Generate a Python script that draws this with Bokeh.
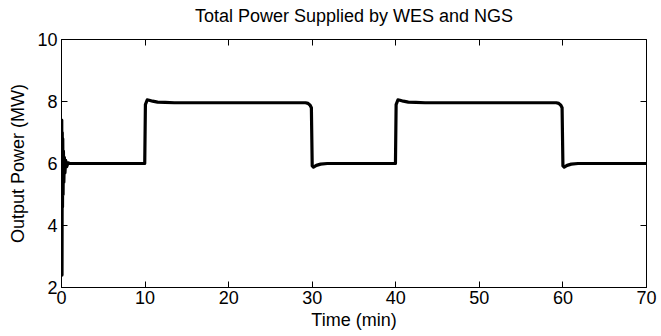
from bokeh.plotting import figure
from bokeh.models import LinearAxis, FixedTicker, Range1d, CustomLabelingPolicy
from bokeh.embed import file_html
from bokeh.resources import INLINE

# Time (min) and total output power (MW)
time_min = [
    0.00, 0.03, 0.06, 0.09, 0.12, 0.15, 0.19, 0.23, 0.28, 0.34, 0.41, 0.50, 0.62, 0.78, 1.00,
    9.96, 10.04, 10.25, 10.50, 10.90, 11.50, 12.40, 13.50,
    29.20, 29.50, 29.75, 29.90, 30.00, 30.15, 30.50, 31.00, 31.80,
    39.96, 40.04, 40.25, 40.50, 40.90, 41.50, 42.40, 43.50,
    59.20, 59.50, 59.75, 59.90, 60.00, 60.15, 60.50, 61.00, 61.80,
    70.00,
]
power_mw = [
    6.00, 7.40, 2.40, 7.00, 4.60, 6.80, 5.00, 6.40, 5.40, 6.20, 5.70, 6.10, 5.90, 6.02, 6.00,
    6.00, 7.90, 8.05, 8.04, 8.01, 7.98, 7.97, 7.96,
    7.96, 7.94, 7.88, 7.80, 5.92, 5.88, 5.94, 5.98, 6.00,
    6.00, 7.90, 8.05, 8.04, 8.01, 7.98, 7.97, 7.96,
    7.96, 7.94, 7.88, 7.80, 5.92, 5.88, 5.94, 5.98, 6.00,
    6.00,
]
x_ticks = [0, 10, 20, 30, 40, 50, 60, 70]
y_ticks = [2, 4, 6, 8, 10]

FONT = "Liberation Sans"
FS = "18px"

p = figure(width=661, height=336, output_backend="svg", toolbar_location=None,
           x_range=Range1d(0, 70), y_range=Range1d(2, 10),
           title="Total Power Supplied by WES and NGS",
           min_border_left=61, min_border_right=13, min_border_top=39, min_border_bottom=49)

p.title.align = "center"
p.title.text_font = FONT
p.title.text_font_size = FS
p.title.text_font_style = "normal"
p.title.text_color = "black"
p.title.standoff = 6

p.xgrid.visible = False
p.ygrid.visible = False
p.outline_line_color = "black"
p.outline_line_width = 1
p.outline_line_alpha = 1

for ax in p.xaxis + p.yaxis:
    ax.major_label_text_font = FONT
    ax.major_label_text_font_size = FS
    ax.major_label_text_color = "black"
    ax.axis_label_text_font = FONT
    ax.axis_label_text_font_size = FS
    ax.axis_label_text_font_style = "normal"
    ax.axis_label_text_color = "black"
    ax.major_tick_in = 6
    ax.major_tick_out = 0
    ax.minor_tick_in = 0
    ax.minor_tick_out = 0
    ax.axis_line_color = "black"
    ax.major_tick_line_color = "black"

p.xaxis.ticker = FixedTicker(ticks=x_ticks)
p.yaxis.ticker = FixedTicker(ticks=y_ticks)
p.xaxis.axis_label = "Time (min)"
p.yaxis.axis_label = "Output Power (MW)"
p.xaxis.major_label_standoff = 3
p.yaxis.major_label_standoff = 4
p.xaxis.axis_label_standoff = 3
p.yaxis.axis_label_standoff = 6

right = LinearAxis(ticker=FixedTicker(ticks=y_ticks), major_tick_in=6, major_tick_out=0,
                   minor_tick_in=0, minor_tick_out=0,
                   major_label_policy=CustomLabelingPolicy(code="return new Set()"),
                   major_label_standoff=0, axis_line_color=None,
                   major_tick_line_color="black")
top = LinearAxis(ticker=FixedTicker(ticks=x_ticks), major_tick_in=6, major_tick_out=0,
                 minor_tick_in=0, minor_tick_out=0,
                 major_label_policy=CustomLabelingPolicy(code="return new Set()"),
                 major_label_standoff=0, axis_line_color=None,
                 major_tick_line_color="black")
p.add_layout(right, "right")
p.add_layout(top, "above")

p.line(time_min, power_mw, line_color="black", line_width=3.2, line_join="round")

open("out.html", "w").write(file_html(p, INLINE))
